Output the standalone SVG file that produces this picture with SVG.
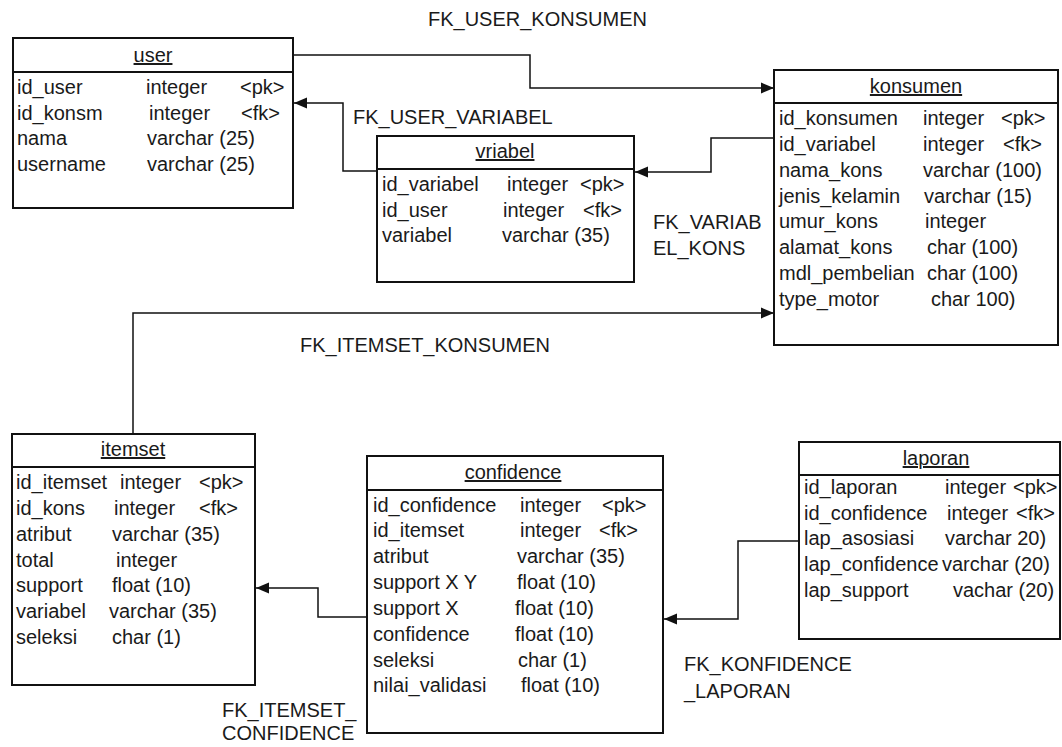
<svg xmlns="http://www.w3.org/2000/svg" width="1062" height="747" viewBox="0 0 1062 747">
<style>
text{font-family:"Liberation Sans",Arial,sans-serif;font-size:20px;fill:#1a1a1a}
.t{text-anchor:middle;text-decoration:underline}
.box{fill:#fff;stroke:#111;stroke-width:2}
.sep{stroke:#111;stroke-width:2}
.c{fill:none;stroke:#111;stroke-width:1.5}
</style>
<defs>
<marker id="ah" markerUnits="userSpaceOnUse" markerWidth="14" markerHeight="12" refX="13" refY="6" orient="auto">
<path d="M0,0.5 L13,6 L0,11.5 Z" fill="#111"/>
</marker>
</defs>
<rect width="1062" height="747" fill="#fff"/>
<g id="connectors">
<path class="c" d="M293,55 H530 V88 H774" marker-end="url(#ah)"/>
<path class="c" d="M377,171 H343 V103 H294" marker-end="url(#ah)"/>
<path class="c" d="M774,138 H711 V172 H635" marker-end="url(#ah)"/>
<path class="c" d="M133,433 V313 H774" marker-end="url(#ah)"/>
<path class="c" d="M367,617 H318 V588 H256" marker-end="url(#ah)"/>
<path class="c" d="M799,541 H738 V619 H664" marker-end="url(#ah)"/>
</g>
<g id="labels">
<text x="428" y="26">FK_USER_KONSUMEN</text>
<text x="353" y="124">FK_USER_VARIABEL</text>
<text x="653" y="229">FK_VARIAB</text>
<text x="653" y="255">EL_KONS</text>
<text x="300" y="352">FK_ITEMSET_KONSUMEN</text>
<text x="222" y="717">FK_ITEMSET_</text>
<text x="222" y="740">CONFIDENCE</text>
<text x="684" y="671">FK_KONFIDENCE</text>
<text x="684" y="698">_LAPORAN</text>
</g>
<g id="user">
<rect class="box" x="13" y="38" width="280" height="170"/>
<line class="sep" x1="13" y1="72" x2="293" y2="72"/>
<text class="t" x="153" y="62">user</text>
<text x="17" y="94">id_user</text><text x="146" y="94">integer</text><text x="240" y="94">&lt;pk&gt;</text>
<text x="17" y="120">id_konsm</text><text x="149" y="120">integer</text><text x="241" y="120">&lt;fk&gt;</text>
<text x="17" y="145">nama</text><text x="147" y="145">varchar (25)</text>
<text x="17" y="171">username</text><text x="147" y="171">varchar (25)</text>
</g>
<g id="vriabel">
<rect class="box" x="377" y="136" width="257" height="146"/>
<line class="sep" x1="377" y1="169" x2="634" y2="169"/>
<text class="t" x="505" y="158">vriabel</text>
<text x="382" y="191">id_variabel</text><text x="507" y="191">integer</text><text x="580" y="191">&lt;pk&gt;</text>
<text x="382" y="217">id_user</text><text x="503" y="217">integer</text><text x="583" y="217">&lt;fk&gt;</text>
<text x="382" y="242">variabel</text><text x="502" y="242">varchar (35)</text>
</g>
<g id="konsumen">
<rect class="box" x="774" y="70" width="284" height="275"/>
<line class="sep" x1="774" y1="103" x2="1058" y2="103"/>
<text class="t" x="916" y="93">konsumen</text>
<text x="779" y="125">id_konsumen</text><text x="923" y="125">integer</text><text x="1001" y="125">&lt;pk&gt;</text>
<text x="779" y="151">id_variabel</text><text x="923" y="151">integer</text><text x="1003" y="151">&lt;fk&gt;</text>
<text x="779" y="177">nama_kons</text><text x="923" y="177">varchar (100)</text>
<text x="779" y="203">jenis_kelamin</text><text x="924" y="203">varchar (15)</text>
<text x="779" y="228">umur_kons</text><text x="925" y="228">integer</text>
<text x="779" y="254">alamat_kons</text><text x="927" y="254">char (100)</text>
<text x="779" y="280">mdl_pembelian</text><text x="927" y="280">char (100)</text>
<text x="779" y="306">type_motor</text><text x="931" y="306">char 100)</text>
</g>
<g id="itemset">
<rect class="box" x="12" y="434" width="243" height="251"/>
<line class="sep" x1="12" y1="467" x2="255" y2="467"/>
<text class="t" x="133" y="456">itemset</text>
<text x="16" y="489">id_itemset</text><text x="120" y="489">integer</text><text x="199" y="489">&lt;pk&gt;</text>
<text x="16" y="515">id_kons</text><text x="114" y="515">integer</text><text x="199" y="515">&lt;fk&gt;</text>
<text x="16" y="541">atribut</text><text x="112" y="541">varchar (35)</text>
<text x="16" y="567">total</text><text x="116" y="567">integer</text>
<text x="16" y="592">support</text><text x="112" y="592">float (10)</text>
<text x="16" y="618">variabel</text><text x="109" y="618">varchar (35)</text>
<text x="16" y="644">seleksi</text><text x="112" y="644">char (1)</text>
</g>
<g id="confidence">
<rect class="box" x="367" y="456" width="296" height="277"/>
<line class="sep" x1="367" y1="490" x2="663" y2="490"/>
<text class="t" x="513" y="479">confidence</text>
<text x="373" y="512">id_confidence</text><text x="520" y="512">integer</text><text x="602" y="512">&lt;pk&gt;</text>
<text x="373" y="537">id_itemset</text><text x="520" y="537">integer</text><text x="599" y="537">&lt;fk&gt;</text>
<text x="373" y="563">atribut</text><text x="517" y="563">varchar (35)</text>
<text x="373" y="589">support X Y</text><text x="517" y="589">float (10)</text>
<text x="373" y="615">support X</text><text x="515" y="615">float (10)</text>
<text x="373" y="641">confidence</text><text x="515" y="641">float (10)</text>
<text x="373" y="667">seleksi</text><text x="518" y="667">char (1)</text>
<text x="373" y="692">nilai_validasi</text><text x="521" y="692">float (10)</text>
</g>
<g id="laporan">
<rect class="box" x="799" y="442" width="261" height="197"/>
<line class="sep" x1="799" y1="475" x2="1060" y2="475"/>
<text class="t" x="936" y="465">laporan</text>
<text x="804" y="494">id_laporan</text><text x="945" y="494">integer</text><text x="1013" y="494">&lt;pk&gt;</text>
<text x="804" y="520">id_confidence</text><text x="947" y="520">integer</text><text x="1016" y="520">&lt;fk&gt;</text>
<text x="804" y="545">lap_asosiasi</text><text x="945" y="545">varchar 20)</text>
<text x="804" y="571">lap_confidence</text><text x="942" y="571">varchar (20)</text>
<text x="804" y="597">lap_support</text><text x="953" y="597">vachar (20)</text>
</g>
</svg>
